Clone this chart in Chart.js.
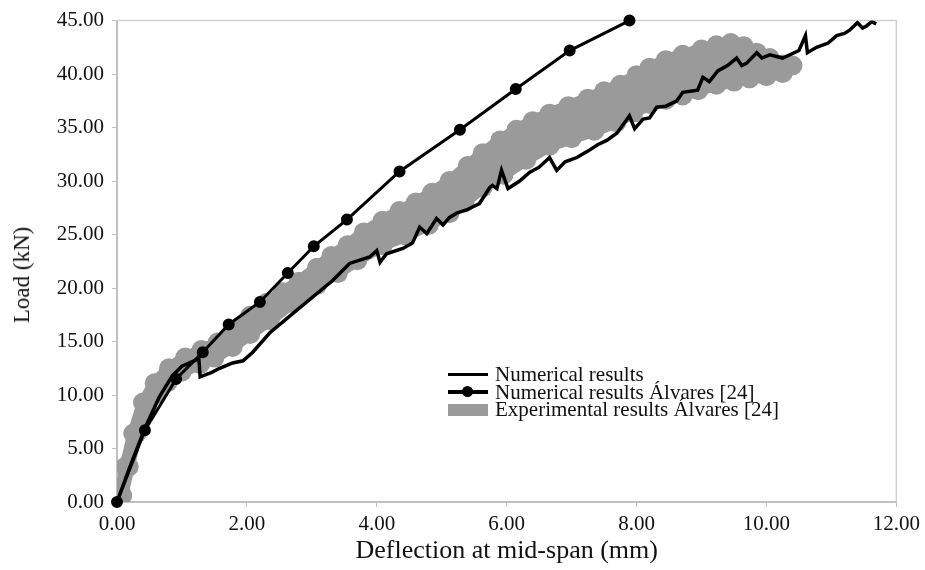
<!DOCTYPE html>
<html>
<head>
<meta charset="utf-8">
<title>Load - deflection</title>
<script src="https://cdn.jsdelivr.net/npm/chart.js@4.4.1/dist/chart.umd.min.js"></script>
<style>
    body { margin: 0; background: #fff; }
    #wrap { position: relative; width: 925px; height: 570px; }
    .legend {
        position: absolute;
        left: 448px;
        top: 366px;
        font-family: 'Liberation Serif', serif;
        font-size: 21px;
        color: #111;
    }
    .legend-row { display: flex; align-items: center; height: 17.5px; white-space: nowrap; }
    .legend-key { position: relative; width: 40px; height: 12px; margin-right: 7px; }
    .key-line { position: absolute; left: 0; right: 0; top: 4px; height: 3.5px; background: #000; }
    .key-dot { position: absolute; left: 14px; top: 0px; width: 11px; height: 11px; border-radius: 50%; background: #000; }
    .key-box { position: absolute; left: 0; right: 0; top: 0; height: 12px; background: #9a9a9a; }
    .y-title {
        position: absolute;
        left: 22px;
        top: 275px;
        transform: translate(-50%, -50%) rotate(-90deg);
        font-family: 'Liberation Serif', serif;
        font-size: 23px;
        color: #111;
        white-space: nowrap;
    }
</style>
</head>
<body>
<div id="wrap">
    <canvas id="loadChart" width="925" height="570"></canvas>
    <div class="y-title">Load (kN)</div>
    <div class="legend">
        <div class="legend-row"><div class="legend-key"><div class="key-line"></div></div>Numerical results</div>
        <div class="legend-row"><div class="legend-key"><div class="key-line"></div><div class="key-dot"></div></div>Numerical results Álvares [24]</div>
        <div class="legend-row"><div class="legend-key"><div class="key-box"></div></div>Experimental results Álvares [24]</div>
    </div>
</div>
<script>
// Axis ticks
const xTicks = [0, 2, 4, 6, 8, 10, 12];
const yTicks = [0, 5, 10, 15, 20, 25, 30, 35, 40, 45];

// Numerical results (this model)
const numDefl = [0, 0.2, 0.43, 0.65, 0.85, 1.0, 1.15, 1.26, 1.28, 1.45, 1.58, 1.78, 1.94, 2.09, 2.35, 2.82,
    3.32, 3.58, 3.89, 4.0, 4.05, 4.15, 4.4, 4.55, 4.66, 4.77, 4.92, 5.02, 5.12, 5.23, 5.38, 5.58, 5.74,
    5.78, 5.85, 5.92, 6.02, 6.2, 6.35, 6.5, 6.66, 6.77, 6.9, 7.08, 7.25, 7.4, 7.54, 7.7, 7.89, 7.97,
    8.1, 8.2, 8.31, 8.45, 8.62, 8.71, 8.94, 9.02, 9.12, 9.25, 9.4, 9.54, 9.62, 9.69, 9.85, 9.93, 10.05,
    10.25, 10.5, 10.6, 10.63, 10.77, 10.95, 11.08, 11.2, 11.28, 11.4, 11.48, 11.54, 11.62, 11.69];
const numLoad = [0, 3.3, 6.9, 9.8, 11.8, 12.7, 13.1, 13.4, 11.7, 12.1, 12.5, 13.0, 13.2, 14.0, 15.8, 18.2,
    20.7, 22.3, 22.9, 23.5, 22.4, 23.2, 23.7, 24.2, 25.7, 25.1, 26.5, 25.9, 26.6, 27.0, 27.3, 27.9, 29.4,
    29.6, 29.3, 31.0, 29.3, 30.0, 30.8, 31.3, 32.2, 31.0, 31.8, 32.2, 32.8, 33.4, 33.8, 34.5, 36.1, 34.9,
    35.8, 35.9, 36.9, 37.0, 37.5, 38.3, 38.5, 39.7, 39.3, 40.3, 40.8, 41.5, 40.8, 41.0, 42.0, 41.5, 41.8,
    41.5, 42.2, 43.6, 42.0, 42.5, 42.9, 43.6, 43.8, 44.1, 44.8, 44.3, 44.5, 44.9, 44.7];

// Numerical results from Álvares [24]
const alvDefl = [0, 0.43, 0.91, 1.32, 1.72, 2.2, 2.63, 3.03, 3.54, 4.35, 5.28, 6.14, 6.97, 7.89];
const alvLoad = [0, 6.7, 11.5, 14.0, 16.6, 18.7, 21.4, 23.9, 26.4, 30.9, 34.8, 38.6, 42.2, 45.0];

// Experimental results from Álvares [24]: envelope of the load cycles,
// out along the upper side and back along the lower side
const expDefl = [0.05, 0.13, 0.25, 0.4, 0.58, 0.8, 1.05, 1.3, 1.55, 1.8, 2.05, 2.3, 2.55, 2.8, 3.08,
    3.3, 3.55, 3.8, 4.09, 4.35, 4.6, 4.85, 5.12, 5.4, 5.63, 5.9, 6.15, 6.4, 6.66, 6.95, 7.25, 7.5,
    7.75, 8.0, 8.2, 8.45, 8.71, 9.0, 9.23, 9.45, 9.65, 9.85, 10.05, 10.25, 10.4,
    10.25, 10.0, 9.74, 9.5, 9.23, 8.95, 8.71, 8.45, 8.2, 7.95, 7.69, 7.35, 7.0, 6.66, 6.3, 5.95,
    5.63, 5.35, 5.12, 4.8, 4.45, 4.09, 3.7, 3.4, 3.08, 2.7, 2.35, 2.05, 1.78, 1.5, 1.28, 1.0, 0.78,
    0.6, 0.45, 0.3, 0.18, 0.08];
const expLoad = [0.6, 3.3, 6.4, 9.3, 11.1, 12.5, 13.5, 14.2, 14.9, 16.0, 17.4, 18.6, 19.6, 20.6, 21.9,
    23.0, 24.0, 25.2, 26.3, 27.2, 28.0, 28.9, 30.0, 31.4, 32.6, 33.8, 34.8, 35.6, 36.3, 37.0, 37.7, 38.4,
    39.0, 39.9, 40.6, 41.3, 41.8, 42.3, 42.7, 42.9, 42.6, 42.0, 41.5, 40.9, 40.8,
    40.1, 39.8, 39.6, 39.3, 39.0, 38.5, 38.0, 37.6, 37.2, 36.4, 35.5, 34.7, 34.0, 33.3, 32.0, 30.6,
    29.4, 28.0, 27.0, 25.9, 24.9, 24.0, 22.6, 21.4, 20.3, 18.6, 17.0, 15.7, 14.5, 13.5, 12.9, 12.2, 11.2,
    10.1, 8.9, 6.4, 3.3, 0.6];

function toPoints(xs, ys) {
    return xs.map((x, i) => ({ x: x, y: ys[i] }));
}

const serif = 'Liberation Serif';
const axisGrey = '#c0c0c0';
const bandGrey = '#9a9a9a';

// Light frame on the top and right of the plot area
const plotFrame = {
    id: 'plotFrame',
    beforeDatasetsDraw(chart) {
        const a = chart.chartArea;
        const ctx = chart.ctx;
        ctx.save();
        ctx.strokeStyle = '#d0d0d0';
        ctx.lineWidth = 1.5;
        ctx.beginPath();
        ctx.moveTo(a.left, a.top);
        ctx.lineTo(a.right, a.top);
        ctx.lineTo(a.right, a.bottom);
        ctx.stroke();
        ctx.restore();
    }
};

new Chart(document.getElementById('loadChart'), {
    type: 'scatter',
    data: {
        datasets: [
            {
                label: 'Numerical results',
                data: toPoints(numDefl, numLoad),
                showLine: true,
                borderColor: '#000',
                borderWidth: 3.5,
                pointRadius: 0,
                tension: 0,
                order: 1
            },
            {
                label: 'Numerical results Álvares [24]',
                data: toPoints(alvDefl, alvLoad),
                showLine: true,
                borderColor: '#000',
                backgroundColor: '#000',
                borderWidth: 3,
                pointRadius: 4.5,
                tension: 0,
                clip: false,
                order: 2
            },
            {
                label: 'Experimental results Álvares [24]',
                data: toPoints(expDefl, expLoad),
                showLine: true,
                fill: 'shape',
                borderColor: bandGrey,
                backgroundColor: bandGrey,
                pointBackgroundColor: bandGrey,
                borderWidth: 12,
                borderJoinStyle: 'round',
                borderCapStyle: 'round',
                pointRadius: 10,
                pointBorderWidth: 0,
                tension: 0,
                order: 3
            }
        ]
    },
    options: {
        responsive: false,
        animation: false,
        layout: { padding: { top: 20, right: 28, left: 0, bottom: 0 } },
        plugins: {
            legend: { display: false },
            tooltip: { enabled: false }
        },
        scales: {
            x: {
                type: 'linear',
                min: 0,
                max: 12,
                afterFit: function(scale) { scale.height = 68; },
                afterBuildTicks: function(scale) { scale.ticks = xTicks.map(v => ({ value: v })); },
                ticks: {
                    font: { family: serif, size: 21 },
                    color: '#111',
                    padding: 5,
                    callback: v => v.toFixed(2)
                },
                grid: { drawOnChartArea: false, drawTicks: true, tickLength: 5, color: axisGrey },
                border: { color: axisGrey, width: 2 },
                title: {
                    display: true,
                    text: 'Deflection at mid-span (mm)',
                    font: { family: serif, size: 26 },
                    color: '#111',
                    padding: { top: 0, bottom: 3 }
                }
            },
            y: {
                type: 'linear',
                min: 0,
                max: 45,
                afterFit: function(scale) { scale.width = 117; },
                afterBuildTicks: function(scale) { scale.ticks = yTicks.map(v => ({ value: v })); },
                ticks: {
                    font: { family: serif, size: 21 },
                    color: '#111',
                    padding: 8,
                    callback: v => v.toFixed(2)
                },
                grid: { drawOnChartArea: false, drawTicks: true, tickLength: 5, color: axisGrey },
                border: { color: axisGrey, width: 2 }
            }
        }
    },
    plugins: [plotFrame]
});
</script>
</body>
</html>
